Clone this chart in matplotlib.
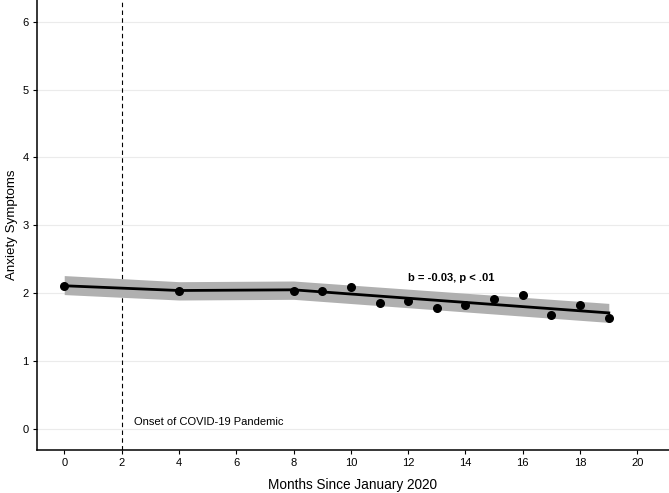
import matplotlib
matplotlib.use("Agg")
import matplotlib.pyplot as plt

# observed monthly means
months = [0, 4, 8, 9, 10, 11, 12, 13, 14, 15, 16, 17, 18, 19]
anxiety = [2.11, 2.04, 2.04, 2.03, 2.09, 1.85, 1.88, 1.78, 1.82, 1.91, 1.97, 1.68, 1.83, 1.63]

# fitted piecewise trend and its band
fit_months = [0, 4, 8, 19]
fit_vals = [2.11, 2.04, 2.05, 1.71]
fit_low = [1.98, 1.90, 1.91, 1.57]
fit_high = [2.26, 2.17, 2.18, 1.85]

onset_month = 2
x_ticks = list(range(0, 21, 2))
y_ticks = [0, 1, 2, 3, 4, 5, 6]

plt.rcParams["font.family"] = ["Liberation Sans", "DejaVu Sans"]

fig = plt.figure(figsize=(6.69, 4.93), dpi=100)
ax = fig.add_axes([0.0553, 0.0872, 0.9447, 0.9128])

ax.fill_between(fit_months, fit_low, fit_high, color="#b0b0b0", lw=0, zorder=2)
ax.plot(fit_months, fit_vals, color="black", lw=2, zorder=3)
ax.scatter(months, anxiety, s=30, color="black", zorder=4)

ax.axvline(onset_month, color="black", lw=0.8, ls=(0, (4, 3)), zorder=1)
ax.text(2.45, 0.11, "Onset of COVID-19 Pandemic", fontsize=8, va="center", ha="left")
ax.text(13.5, 2.23, "b = -0.03, p < .01", fontsize=8, fontweight="bold", ha="center", va="center")

ax.set_xlim(-0.95, 21.1)
ax.set_ylim(-0.31, 6.32)
ax.set_xticks(x_ticks)
ax.set_yticks(y_ticks)
ax.yaxis.grid(True, color="#ebebeb", lw=0.8)
ax.set_axisbelow(True)

for side in ["top", "right"]:
    ax.spines[side].set_visible(False)
for side in ["left", "bottom"]:
    ax.spines[side].set_linewidth(1.1)

ax.tick_params(axis="both", labelsize=8, length=3, width=0.8, colors="black", pad=3)
ax.set_xlabel("Months Since January 2020", fontsize=9.8, labelpad=7)
ax.set_ylabel("Anxiety Symptoms", fontsize=9.6, labelpad=3)

fig.savefig("out.png", dpi=100)
